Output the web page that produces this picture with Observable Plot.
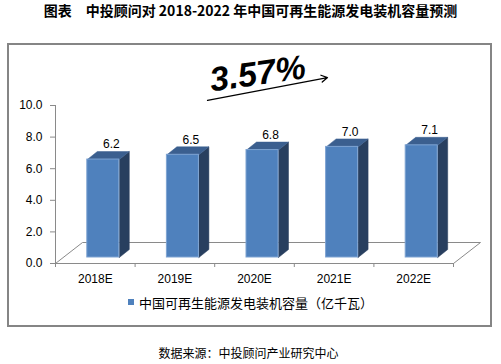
<!DOCTYPE html>
<html><head><meta charset="utf-8">
<script src="https://cdn.jsdelivr.net/npm/d3@7"></script>
<script src="https://cdn.jsdelivr.net/npm/@observablehq/plot@0.6"></script>
<style>
body{margin:0;width:501px;height:364px;position:relative;background:#fff;overflow:hidden;font-family:"Liberation Sans",Arial,"Noto Sans CJK SC",sans-serif;}
#title{position:absolute;left:0;top:2px;width:501px;text-align:center;font-weight:bold;font-size:14px;line-height:16px;font-family:"Noto Sans CJK SC",sans-serif;color:#000;}
#frame{position:absolute;left:7px;top:43px;width:481px;height:280px;border:2px solid #858585;}
#chart{position:absolute;left:0;top:44px;}
#legend{position:absolute;left:128px;top:294px;height:16px;display:flex;align-items:center;font-size:13px;font-family:"Noto Sans CJK SC",sans-serif;color:#000;}
#legend .sw{width:6px;height:6px;background:#4f81bd;margin-right:5px;}
#source{position:absolute;left:0;top:345px;width:497px;text-align:center;font-size:12px;line-height:16px;font-family:"Noto Sans CJK SC",sans-serif;color:#000;}
</style></head><body>
<div id="title"></div>
<div id="frame"></div>
<div id="chart"></div>
<div id="legend"><div class="sw"></div><span id="legtext"></span></div>
<div id="source"></div>
<script>
const titleText = "图表　中投顾问对 2018-2022 年中国可再生能源发电装机容量预测";
const years = ["2018E", "2019E", "2020E", "2021E", "2022E"];
const capacity = [6.2, 6.5, 6.8, 7.0, 7.1];
const yTicks = [0, 2, 4, 6, 8, 10];
const growthLabel = "3.57%";
const seriesName = "中国可再生能源发电装机容量（亿千瓦）";
const sourceText = "数据来源：中投顾问产业研究中心";

document.getElementById("title").textContent = titleText;
document.getElementById("legtext").textContent = seriesName;
document.getElementById("source").textContent = sourceText;

const W = 501, H = 250, mL = 55, mR = 48, mT = 61, mB = 31;
const pxX = (W - mL - mR) / years.length;
const pxY = (H - mT - mB) / 10;
const halfW = 16 / pxX;
const depX = 10 / pxX, depY = 8 / pxY;
const floorX = 27 / pxX, floorY = 21 / pxY;
const x0 = -0.5, x1 = years.length - 0.5;

const bars = capacity.map((v, i) => ({i, v, year: years[i]}));
const poly = (pts, k) => [...pts, pts[0]].map(([x, y]) => ({x, y, k}));
const side = bars.flatMap(b => poly([[b.i + halfW, 0], [b.i + halfW, b.v], [b.i + halfW + depX, b.v + depY], [b.i + halfW + depX, depY]], b.i));
const topf = bars.flatMap(b => poly([[b.i - halfW, b.v], [b.i + halfW, b.v], [b.i + halfW + depX, b.v + depY], [b.i - halfW + depX, b.v + depY]], b.i));
const floor = [[x0, 0], [x0 + floorX, floorY], [x1 + floorX, floorY], [x1, 0]].map(([x, y]) => ({x, y}));

const barShift = {dx: 8, dy: -6};
const chart = Plot.plot({
  width: W, height: H,
  marginLeft: mL, marginRight: mR, marginTop: mT, marginBottom: mB,
  x: {type: "linear", domain: [x0, x1]},
  y: {domain: [0, 10]},
  style: {fontFamily: '"Liberation Sans", Arial, sans-serif', fontSize: "12px", color: "#000", background: "transparent", overflow: "visible"},
  marks: [
    Plot.line(floor, {x: "x", y: "y", stroke: "#8a8a8a", strokeWidth: 1}),
    Plot.line(side, {x: "x", y: "y", z: "k", fill: "#283f5f", stroke: "#283f5f", strokeWidth: 0.5, ...barShift}),
    Plot.line(topf, {x: "x", y: "y", z: "k", fill: "#3b5f8f", stroke: "#3b5f8f", strokeWidth: 0.5, ...barShift}),
    Plot.rect(bars, {x1: d => d.i - halfW, x2: d => d.i + halfW, y1: d => 0, y2: "v", fill: "#4f81bd", stroke: "#7ea3d2", strokeWidth: 1, ...barShift}),
    Plot.ruleY([0], {stroke: "#8a8a8a"}),
    Plot.ruleX([x0], {stroke: "#8a8a8a"}),
    Plot.axisX({ticks: d3.range(x0, x1 + 0.01, 1), tickFormat: () => "", tickSize: 4, stroke: "#8a8a8a"}),
    Plot.axisX({ticks: d3.range(years.length), tickFormat: i => years[i], tickSize: 0, tickPadding: 11, fontSize: 12, fill: "#000"}),
    Plot.axisY({ticks: yTicks, tickFormat: d => d.toFixed(1), tickSize: 5, tickPadding: 8, stroke: "#8a8a8a", fontSize: 12, fill: "#000"}),
    Plot.text(bars, {x: "i", y: "v", text: d => d.v.toFixed(1), dx: 16, dy: -21, fontSize: 12, fill: "#000"}),
    Plot.arrow([growthLabel], {x1: () => 1.41, y1: () => 10.32, x2: () => 2.917, y2: () => 11.77, stroke: "#000", strokeWidth: 1.3, headLength: 8}),
    Plot.text([growthLabel], {x: () => 2.04, y: () => 12.0, text: d => d, fontSize: 34, fontWeight: "bold", fontStyle: "italic", rotate: -8, fill: "#000"})
  ]
});
document.getElementById("chart").appendChild(chart);
</script>
</body></html>
